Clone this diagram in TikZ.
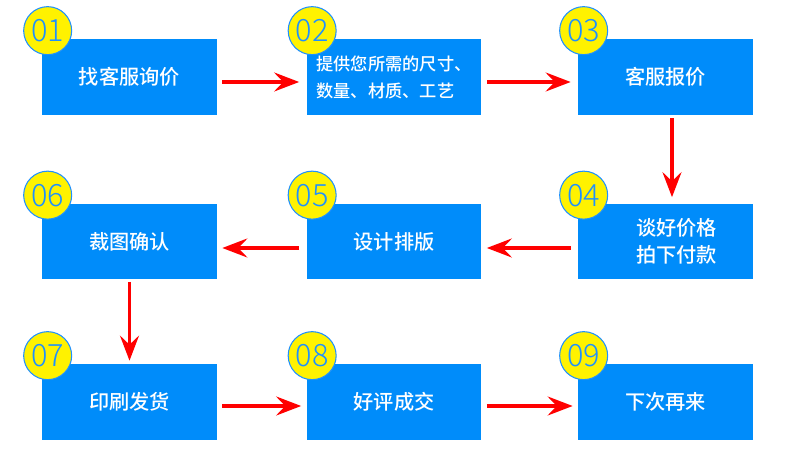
\documentclass[tikz,border=0pt]{standalone}
\usepackage{fontspec}
\setmainfont{Noto Sans CJK SC}
\newfontfamily\boxfont{Noto Sans CJK SC Medium}
\newfontfamily\numfont{Noto Sans CJK SC Light}
\usetikzlibrary{arrows.meta}
\definecolor{boxblue}{RGB}{0,140,250}
\definecolor{numblue}{RGB}{30,144,255}

\begin{document}
\begin{tikzpicture}[x=0.02cm, y=-0.02cm,
    box/.style={fill=boxblue, minimum width=3.5cm, minimum height=1.52cm, inner sep=0pt, align=center, text=white, font=\fontsize{11.5}{15.4}\selectfont\boxfont},
    num/.style={circle, fill=yellow, draw=numblue, line width=0.6pt, minimum size=0.96cm, inner sep=0pt, text=numblue, font=\fontsize{17.5}{17.5}\selectfont\numfont},
    arr/.style={red, line width=1.8pt, -{Stealth[length=0.5cm, width=0.38cm, inset=0.18cm]}}]
    \useasboundingbox (0,0) rectangle (789,476);

    % the nine steps
    \node[box] (b1) at (129.5,77) {找客服询价};
    \node[box, align=left, font=\fontsize{9.8}{15.4}\selectfont\boxfont] (b2) at (394,77) {提供您所需的尺寸、\\数量、材质、工艺};
    \node[box] (b3) at (665.5,77) {客服报价};
    \node[box] (b4) at (665.5,241.5) {\hspace*{0.45cm}谈好价格\\\hspace*{0.45cm}拍下付款};
    \node[box] (b5) at (394,241.5) {设计排版};
    \node[box] (b6) at (129.5,241.5) {裁图确认};
    \node[box] (b7) at (129.5,402) {印刷发货};
    \node[box] (b8) at (394,402) {好评成交};
    \node[box] (b9) at (665.5,402) {下次再来};

    % numbers
    \foreach \i in {1,...,9}
        \node[num] (n\i) at ([xshift=0.12cm, yshift=0.16cm]b\i.north west) {0\i};

    % flow
    \draw[arr] ([xshift=0.1cm, yshift=-0.1cm]b1.east) -- ([xshift=-0.14cm, yshift=-0.1cm]b2.west);
    \draw[arr] ([xshift=0.1cm, yshift=-0.1cm]b2.east) -- ([xshift=-0.14cm, yshift=-0.1cm]b3.west);
    \draw[arr] ([xshift=0.13cm, yshift=-0.06cm]b3.south) -- ([xshift=0.13cm, yshift=0.12cm]b4.north);
    \draw[arr] ([xshift=-0.14cm, yshift=-0.13cm]b4.west) -- ([xshift=0.1cm, yshift=-0.13cm]b5.east);
    \draw[arr] ([xshift=-0.14cm, yshift=-0.13cm]b5.west) -- ([xshift=0.1cm, yshift=-0.13cm]b6.east);
    \draw[arr] ([yshift=-0.04cm]b6.south) -- ([yshift=0.06cm]b7.north);
    \draw[arr] ([xshift=0.1cm, yshift=-0.08cm]b7.east) -- ([xshift=-0.1cm, yshift=-0.08cm]b8.west);
    \draw[arr] ([xshift=0.1cm, yshift=-0.08cm]b8.east) -- ([xshift=-0.1cm, yshift=-0.08cm]b9.west);
\end{tikzpicture}
\end{document}
